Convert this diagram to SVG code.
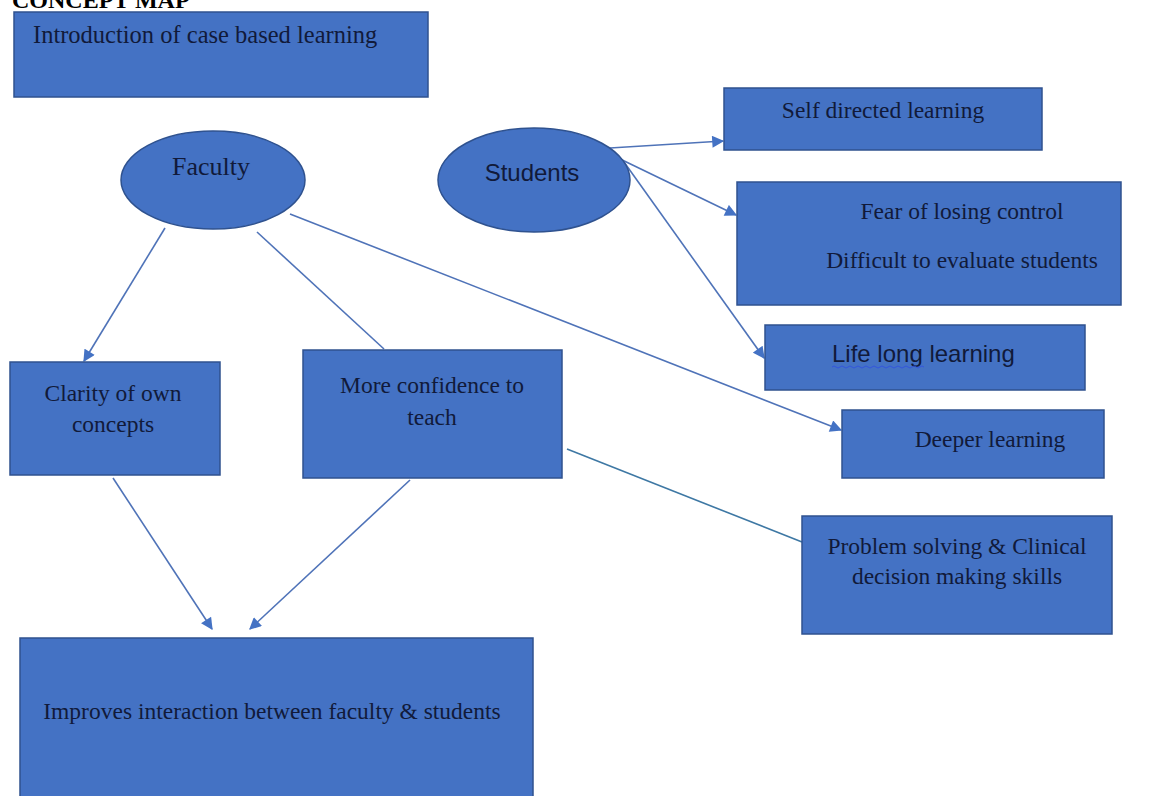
<svg xmlns="http://www.w3.org/2000/svg" width="1176" height="796" viewBox="0 0 1176 796">
<defs>
<style>
.box{fill:#4472C4;stroke:#2F528F;stroke-width:1.5}
.t{font-family:"Liberation Serif",serif;font-size:23.5px;fill:#111a3a}
.s{font-family:"Liberation Sans",sans-serif;font-size:24px;fill:#111a3a}
.c{text-anchor:middle}
.ln{stroke:#4F73B8;stroke-width:1.6;fill:none}
</style>
<marker id="ah" viewBox="0 0 10 10" refX="9" refY="5" markerWidth="13" markerHeight="12" markerUnits="userSpaceOnUse" orient="auto">
<path d="M0,0 L10,5 L0,10 Z" fill="#4472C4"/>
</marker>
</defs>
<rect width="1176" height="796" fill="#ffffff"/>
<text x="12" y="8" style="font-family:'Liberation Serif',serif;font-weight:bold;font-size:24px;fill:#000">CONCEPT MAP</text>

<g id="connectors">
<line class="ln" x1="610" y1="148" x2="723" y2="141" marker-end="url(#ah)"/>
<line class="ln" x1="616" y1="157" x2="736" y2="215" marker-end="url(#ah)"/>
<line class="ln" x1="624" y1="162" x2="764" y2="358" marker-end="url(#ah)"/>
<line class="ln" x1="290" y1="214" x2="841" y2="430" marker-end="url(#ah)"/>
<line class="ln" x1="165" y1="228" x2="84" y2="361" marker-end="url(#ah)"/>
<line class="ln" x1="257" y1="232" x2="384" y2="349"/>
<line class="ln" x1="567" y1="449" x2="802" y2="542" style="stroke:#3E78A4"/>
<line class="ln" x1="113" y1="478" x2="212" y2="629" marker-end="url(#ah)"/>
<line class="ln" x1="410" y1="480" x2="250" y2="629" marker-end="url(#ah)"/>
</g>

<g id="intro">
<rect class="box" x="14" y="12" width="414" height="85"/>
<text class="t" x="33" y="43" style="font-size:24.5px">Introduction of case based learning</text>
</g>

<g id="faculty">
<ellipse class="box" cx="213" cy="180" rx="92" ry="49"/>
<text class="t c" x="211" y="175" style="font-size:26px">Faculty</text>
</g>

<g id="students">
<ellipse class="box" cx="534" cy="180" rx="96" ry="52"/>
<text class="s c" x="532" y="181">Students</text>
</g>

<g id="self-directed">
<rect class="box" x="724" y="88" width="318" height="62"/>
<text class="t c" x="883" y="118">Self directed learning</text>
</g>

<g id="fear">
<rect class="box" x="737" y="182" width="384" height="123"/>
<text class="t c" x="962" y="219">Fear of losing control</text>
<text class="t c" x="962" y="268">Difficult to evaluate students</text>
</g>

<g id="lifelong">
<rect class="box" x="765" y="325" width="320" height="65"/>
<text class="s" x="832" y="362">Life long learning</text>
<path d="M832,367 q2,-2 4,0 t4,0 t4,0 t4,0 t4,0 t4,0 t4,0 t4,0 t4,0 t4,0 t4,0 t4,0 t4,0 t4,0 t4,0 t4,0 t4,0 t4,0 t4,0 t4,0 t4,0 t4,0 t4,0" fill="none" stroke="#3355dd" stroke-width="1"/>
</g>

<g id="deeper">
<rect class="box" x="842" y="410" width="262" height="68"/>
<text class="t c" x="990" y="447">Deeper learning</text>
</g>

<g id="clarity">
<rect class="box" x="10" y="362" width="210" height="113"/>
<text class="t c" x="113" y="401">Clarity of own</text>
<text class="t c" x="113" y="432">concepts</text>
</g>

<g id="confidence">
<rect class="box" x="303" y="350" width="259" height="128"/>
<text class="t c" x="432" y="393">More confidence to</text>
<text class="t c" x="432" y="425">teach</text>
</g>

<g id="problem">
<rect class="box" x="802" y="516" width="310" height="118"/>
<text class="t c" x="957" y="554">Problem solving &amp; Clinical</text>
<text class="t c" x="957" y="584">decision making skills</text>
</g>

<g id="improves">
<rect class="box" x="20" y="638" width="513" height="170"/>
<text class="t c" x="272" y="719">Improves interaction between faculty &amp; students</text>
</g>
</svg>
